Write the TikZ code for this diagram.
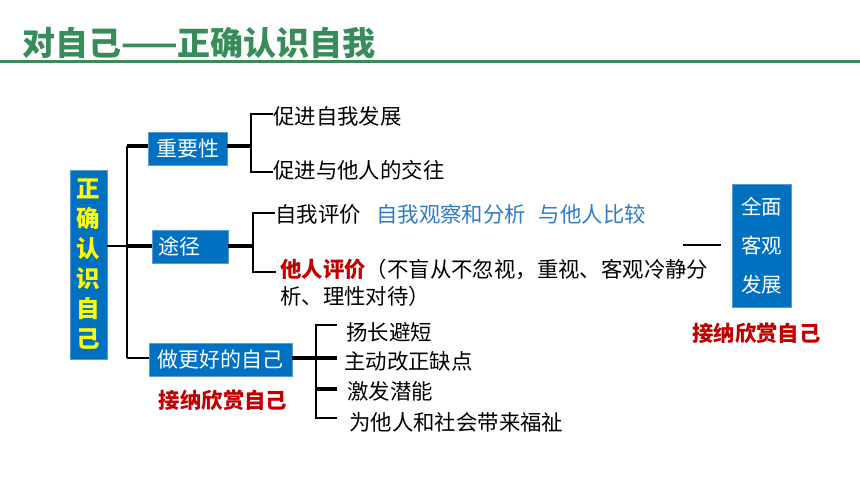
\documentclass[tikz,border=0pt]{standalone}
\usepackage{fontspec}
\setmainfont{Noto Sans CJK SC}
\definecolor{titlegreen}{RGB}{56,140,90}
\definecolor{boxblue}{RGB}{0,112,192}
\definecolor{boxedge}{RGB}{91,155,213}
\definecolor{txtblue}{RGB}{46,125,196}
\definecolor{txtred}{RGB}{192,0,0}
\definecolor{rootyellow}{RGB}{255,255,0}
\tikzset{
  bluebox/.style={fill=boxblue,draw=boxedge,line width=0.8pt,inner sep=0pt,text=white,font=\fontsize{21}{24}\selectfont},
  plain/.style={inner sep=0pt,anchor=west,font=\fontsize{21.4}{27}\selectfont},
  redlbl/.style={inner sep=0pt,text=txtred,font=\fontsize{21.4}{24}\selectfont\bfseries},
  thinln/.style={line width=2pt,black},
  thickln/.style={line width=4pt,black},
}
\begin{document}
\begin{tikzpicture}[x=1pt,y=-1pt]
\useasboundingbox (0,0) rectangle (860,484);
% title
\node[inner sep=0pt,anchor=west,text=titlegreen,font=\fontsize{33}{36}\selectfont\bfseries] (title) at (22,43) {对自己——正确认识自我};
\coordinate (rl) at (0,61.5);
\coordinate (rr) at (860,61.5);
\draw[titlegreen,line width=3pt] (rl) -- (rr);
% boxes
\node[bluebox,minimum width=37pt,minimum height=189pt,text=rootyellow,align=center,font=\fontsize{23.5}{30}\selectfont\bfseries] (root) at (88.5,264.5) {正\\确\\认\\识\\自\\己};
\node[bluebox,minimum width=79pt,minimum height=33pt] (imp) at (187.5,148.5) {重要性};
\node[bluebox,minimum height=33pt,text width=64pt,align=left,inner xsep=6pt] (way) at (190,246.5) {途径};
\node[bluebox,minimum width=143pt,minimum height=33pt] (better) at (220.5,359.5) {做更好的自己};
\node[bluebox,minimum width=59pt,minimum height=123pt,align=center,font=\fontsize{20.5}{39}\selectfont] (goal) at (761.5,245.5) {全面\\客观\\发展};
% texts
\node[plain] (t1) at (273,116) {促进自我发展};
\node[plain] (t2) at (273,170) {促进与他人的交往};
\node[plain] (s1) at (275,214) {自我评价};
\node[plain,text=txtblue] (s1b) at (376,214) {自我观察和分析\hspace{0.6em}与他人比较};
\node[plain,align=left] (o1) at (280,282.5) {\textcolor{txtred}{\bfseries 他人评价}（不盲从不忽视，重视、客观冷静分\\析、理性对待）};
\node[plain] (b1) at (346,332) {扬长避短};
\node[plain] (b2) at (344,361) {主动改正缺点};
\node[plain] (b3) at (347,391) {激发潜能};
\node[plain] (b4) at (349,422) {为他人和社会带来福祉};
\node[redlbl] (r1) at (223,400) {接纳欣赏自己};
\node[redlbl] (r2) at (756.5,333) {接纳欣赏自己};
% trunk
\coordinate (tk1) at (127,146);
\coordinate (tk2) at (127,246);
\coordinate (tk3) at (127,358);
\draw[thinln] (tk1) -- (tk3);
\draw[thinln] (root.east |- tk2) -- (tk2);
\draw[thickln] (tk2) -- (way.west |- tk2);
\draw[thickln] (tk1) -- (imp.west |- tk1);
\draw[thinln] (tk3) -- (better.west |- tk3);
% importance bracket
\coordinate (ia) at (251,146);
\coordinate (ib) at (251,114);
\coordinate (ic) at (251,172);
\draw[thickln] (imp.east |- ia) -- (ia);
\draw[thinln] (t1.west |- ib) -- (ib) -- (ic) -- (t2.west |- ic);
% way bracket
\coordinate (wa) at (253,246);
\coordinate (wb) at (253,213);
\coordinate (wc) at (253,272);
\coordinate (wce) at (276,272);
\draw[thickln] (way.east |- wa) -- (wa);
\draw[thinln] (s1.west |- wb) -- (wb) -- (wc) -- (wce);
% better bracket
\coordinate (ba) at (316,358);
\coordinate (bb) at (316,325);
\coordinate (bc) at (316,418);
\coordinate (bd) at (316,389);
\coordinate (bae) at (337,358);
\coordinate (bbe) at (337,325);
\coordinate (bce) at (337,418);
\coordinate (bde) at (337,389);
\draw[thickln] (better.east |- ba) -- (bae);
\draw[thinln] (bbe) -- (bb) -- (bc) -- (bce);
\draw[thickln] (bd) -- (bde);
% short line near goal
\coordinate (ga) at (683,245);
\coordinate (gb) at (721,245);
\draw[thinln] (ga) -- (gb);
\end{tikzpicture}
\end{document}
